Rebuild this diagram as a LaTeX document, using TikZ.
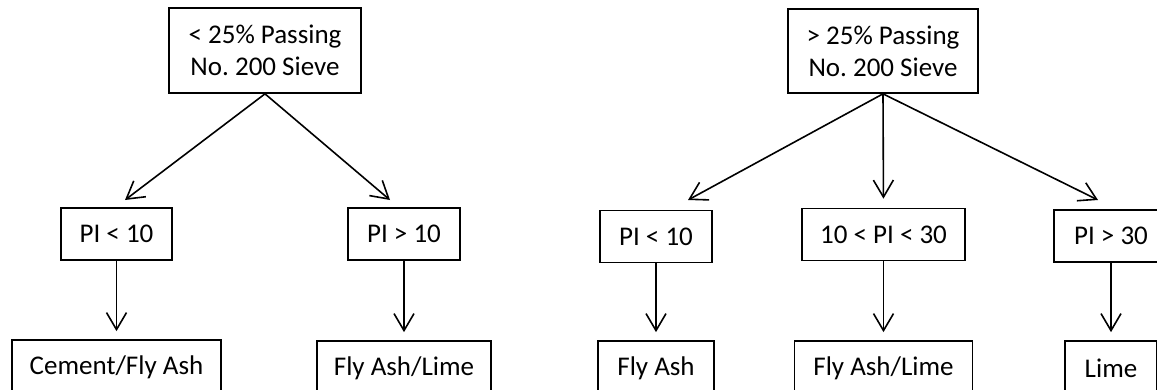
\documentclass[tikz,border=0pt]{standalone}
\usepackage{fontspec}
\setmainfont{Carlito}
\usetikzlibrary{arrows.meta}
\frenchspacing
\begin{document}
\begin{tikzpicture}[x=1pt,y=-1pt,
  box/.style={draw=black,line width=1.7pt,align=center,inner sep=0pt,font=\fontsize{27}{32}\selectfont},
  conn/.style={line width=1.6pt,-{Straight Barb[length=17pt,width=20pt,line width=1.6pt]}},
  down/.style={conn,shorten >=8pt}]
\useasboundingbox (0,0) rectangle (1157,389);
\clip (0,0) rectangle (1157,389);
% left tree
\node[box,minimum width=192pt,minimum height=85pt] (topL) at (265,50.5) {< 25\% Passing\\No. 200 Sieve};
\node[box,minimum width=111pt,minimum height=52pt] (a1) at (116.5,234) {PI < 10};
\node[box,minimum width=112pt,minimum height=52pt] (a2) at (404,234) {PI > 10};
\node[box,minimum width=209pt,minimum height=54pt] (b1) at (116.5,367) {Cement/Fly Ash};
\node[box,minimum width=174pt,minimum height=54pt] (b2) at (404,368) {Fly Ash/Lime};
\coordinate (tL1) at (125,200);
\coordinate (tL2) at (390,200);
\draw[conn] (topL.south) -- (tL1);
\draw[conn] (topL.south) -- (tL2);
\draw[down] (a1.south) -- (b1.north);
\draw[down] (a2.south) -- (b2.north);
% right tree
\node[box,minimum width=190pt,minimum height=84pt] (topR) at (883,51) {> 25\% Passing\\No. 200 Sieve};
\node[box,minimum width=112pt,minimum height=52pt] (c1) at (656,236.5) {PI < 10};
\node[box,minimum width=163pt,minimum height=52pt] (c2) at (883.5,234.5) {10 < PI < 30};
\node[box,minimum width=114pt,minimum height=52pt] (c3) at (1111,236) {PI > 30};
\node[box,minimum width=116pt,minimum height=54pt] (d1) at (656,368) {Fly Ash};
\node[box,minimum width=178pt,minimum height=54pt] (d2) at (883.5,368) {Fly Ash/Lime};
\node[box,minimum width=92pt,minimum height=54pt] (d3) at (1111,368) {Lime};
\coordinate (tR1) at (688,200);
\coordinate (tR3) at (1098,200);
\draw[conn] (topR.south) -- (tR1);
\draw[down,shorten >=9pt] (topR.south) -- (c2.north);
\draw[conn] (topR.south) -- (tR3);
\draw[down] (c1.south) -- (d1.north);
\draw[down] (c2.south) -- (d2.north);
\draw[down] (c3.south) -- (d3.north);
\end{tikzpicture}
\end{document}
